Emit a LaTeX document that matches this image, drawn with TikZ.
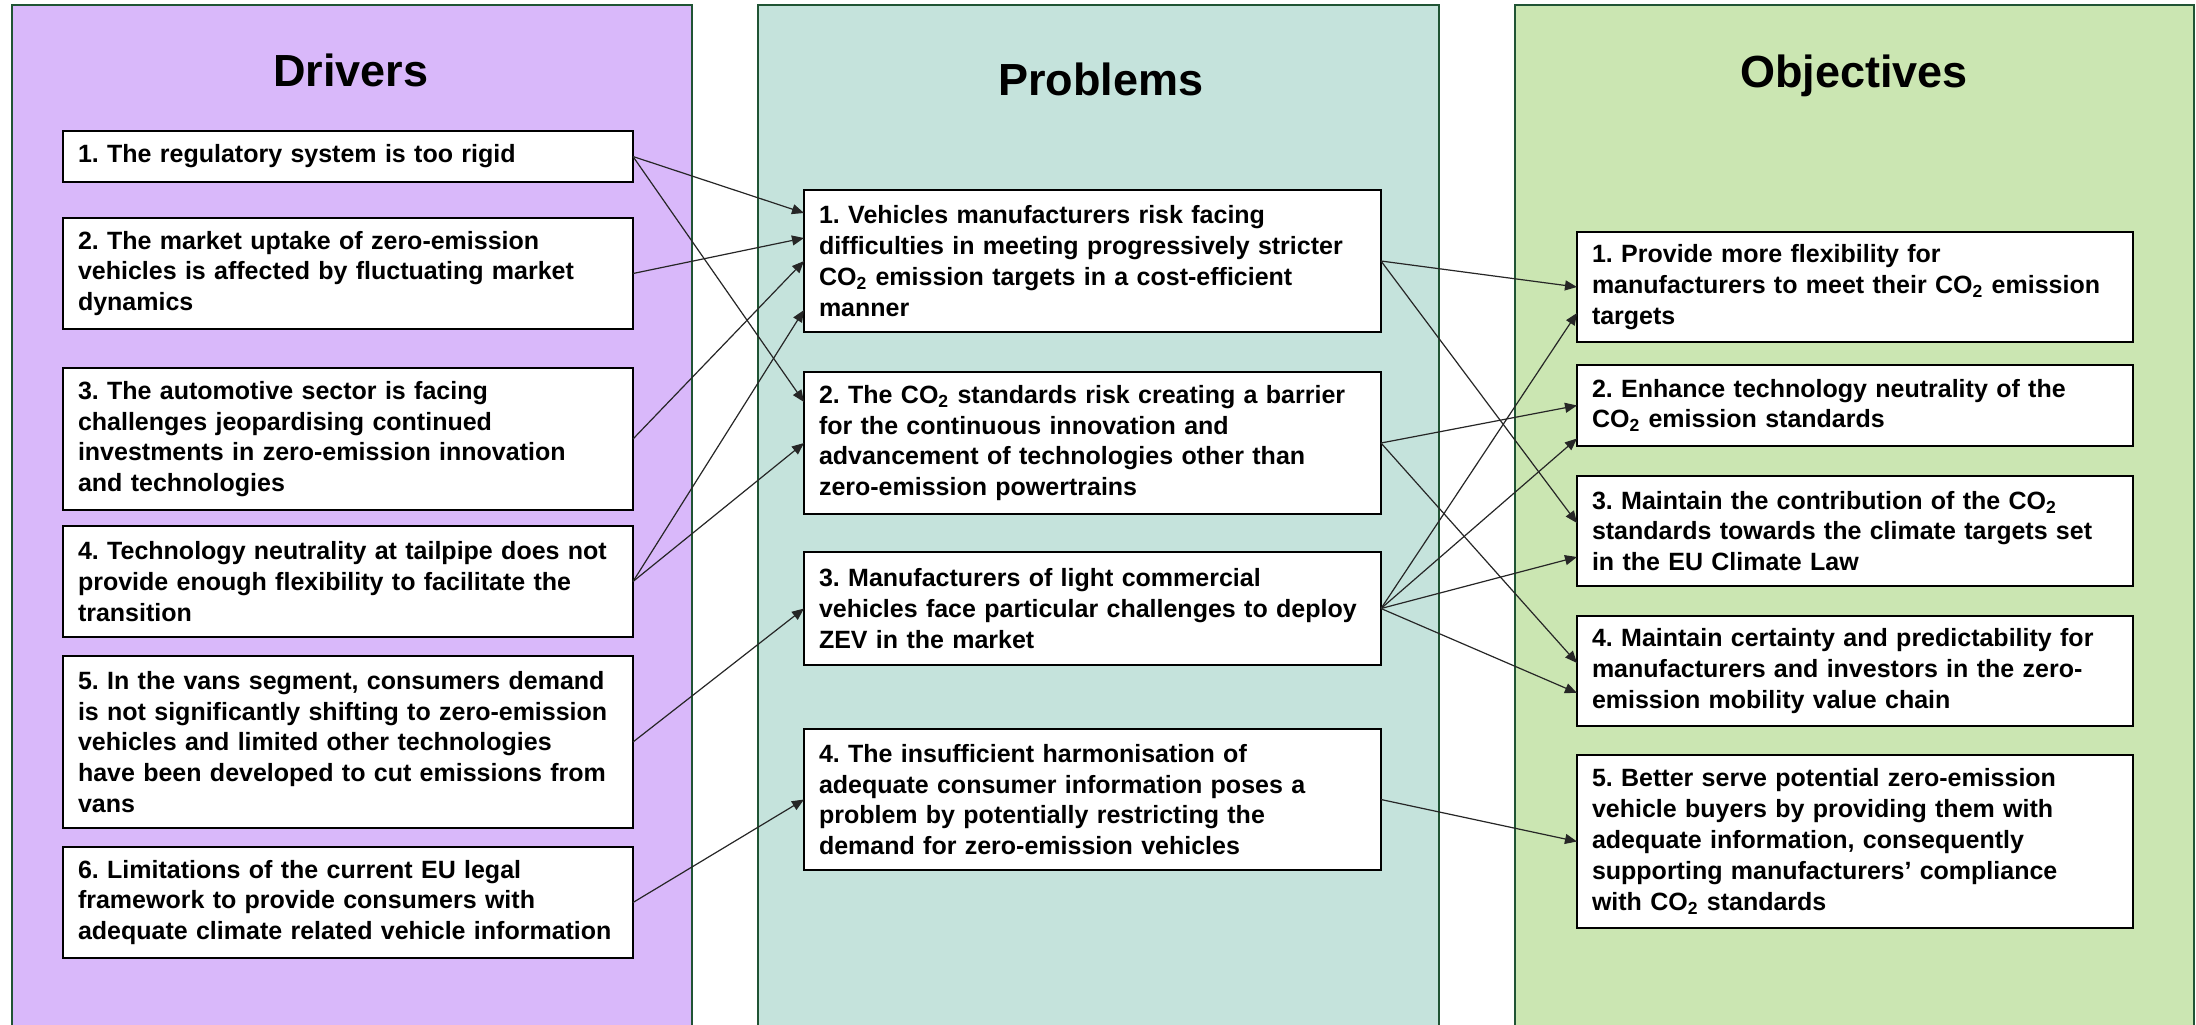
\documentclass[tikz,border=0pt]{standalone}
\usepackage{fontspec}
\setmainfont{Liberation Sans}
\usetikzlibrary{positioning, arrows.meta, calc}

\definecolor{drvfill}{RGB}{217,184,250}
\definecolor{prbfill}{RGB}{197,227,220}
\definecolor{objfill}{RGB}{203,230,178}
\definecolor{panelline}{RGB}{32,84,52}
\newcommand{\cotwo}{CO\textsubscript{2}}
\frenchspacing

\begin{document}
\begin{tikzpicture}[
        x=0.5pt, y=-0.5pt,
        font=\fontsize{12.5pt}{15.4pt}\selectfont\bfseries,
        panel/.style={draw=panelline, line width=0.9pt},
        head/.style={anchor=base, font=\fontsize{22.5pt}{27pt}\selectfont\bfseries},
        box/.style={rectangle, draw, line width=1pt, fill=white, inner xsep=7.5pt, inner ysep=2pt, outer sep=0pt, align=left},
        dbox/.style={box, text width=270pt, minimum width=285pt},
        pbox/.style={box, text width=273.5pt, minimum width=288.5pt},
        obox/.style={box, text width=263pt, minimum width=278pt},
        arr/.style={-{Triangle[length=6pt, width=5pt]}, line width=0.6pt, draw=black!85}
    ]
    \useasboundingbox (0,0) rectangle (2196,1024);
    \clip (0,0) rectangle (2196,1024);
    \fill[white] (0,0) rectangle (2196,1024);

    % columns
    \draw[panel, fill=drvfill] (12,5) rectangle (692,1040);
    \draw[panel, fill=prbfill] (758,5) rectangle (1439,1040);
    \draw[panel, fill=objfill] (1515,5) rectangle (2194,1040);

    \node[head] (hdrv) at (351,86) {Drivers};
    \node[head] (hprb) at (1101,95) {Problems};
    \node[head] (hobj) at (1854,87) {Objectives};

    % drivers
    \node[dbox, anchor=north west, minimum height=25.5pt] (d1) at (63,131) {1. The regulatory system is too rigid};
    \node[dbox, below=18pt of d1, minimum height=55.5pt] (d2) {2. The market uptake of zero-emission\\vehicles is affected by fluctuating market\\dynamics};
    \node[dbox, below=19.5pt of d2, minimum height=71pt] (d3) {3. The automotive sector is facing\\challenges jeopardising continued\\investments in zero-emission innovation\\and technologies};
    \node[dbox, below=8pt of d3, minimum height=55.5pt] (d4) {4. Technology neutrality at tailpipe does not\\provide enough flexibility to facilitate the\\transition};
    \node[dbox, below=9.5pt of d4, minimum height=86pt] (d5) {5. In the vans segment, consumers demand\\is not significantly shifting to zero-emission\\vehicles and limited other technologies\\have been developed to cut emissions from\\vans};
    \node[dbox, below=9.5pt of d5, minimum height=55.5pt] (d6) {6. Limitations of the current EU legal\\framework to provide consumers with\\adequate climate related vehicle information};

    % problems
    \node[pbox, anchor=north west, minimum height=71pt] (p1) at (804,190) {1. Vehicles manufacturers risk facing\\difficulties in meeting progressively stricter\\\cotwo{} emission targets in a cost-efficient\\manner};
    \node[pbox, below=20pt of p1, minimum height=71pt] (p2) {2. The \cotwo{} standards risk creating a barrier\\for the continuous innovation and\\advancement of technologies other than\\zero-emission powertrains};
    \node[pbox, below=19pt of p2, minimum height=56.5pt] (p3) {3. Manufacturers of light commercial\\vehicles face particular challenges to deploy\\ZEV in the market};
    \node[pbox, below=32pt of p3, minimum height=70.5pt] (p4) {4. The insufficient harmonisation of\\adequate consumer information poses a\\problem by potentially restricting the\\demand for zero-emission vehicles};

    % objectives
    \node[obox, anchor=north west, minimum height=55pt] (o1) at (1577,232) {1. Provide more flexibility for\\manufacturers to meet their \cotwo{} emission\\targets};
    \node[obox, below=11.5pt of o1, minimum height=40.5pt] (o2) {2. Enhance technology neutrality of the\\\cotwo{} emission standards};
    \node[obox, below=15pt of o2, minimum height=55pt] (o3) {3. Maintain the contribution of the \cotwo\\standards towards the climate targets set\\in the EU Climate Law};
    \node[obox, below=15pt of o3, minimum height=55pt] (o4) {4. Maintain certainty and predictability for\\manufacturers and investors in the zero-\\emission mobility value chain};
    \node[obox, below=14.5pt of o4, minimum height=86.5pt] (o5) {5. Better serve potential zero-emission\\vehicle buyers by providing them with\\adequate information, consequently\\supporting manufacturers' compliance\\with \cotwo{} standards};

    % drivers -> problems
    \draw[arr] (d1.east) -- ($(p1.west)+(0,-48)$);
    \draw[arr] (d2.east) -- ($(p1.west)+(0,-23)$);
    \draw[arr] (d3.east) -- (p1.west);
    \draw[arr] (d4.east) -- ($(p1.west)+(0,49)$);
    \draw[arr] (d1.east) -- ($(p2.west)+(0,-41)$);
    \draw[arr] (d4.east) -- (p2.west);
    \draw[arr] (d5.east) -- (p3.west);
    \draw[arr] (d6.east) -- (p4.west);

    % problems -> objectives
    \draw[arr] (p1.east) -- (o1.west);
    \draw[arr] (p1.east) -- ($(o3.west)+(0,-8)$);
    \draw[arr] (p2.east) -- (o2.west);
    \draw[arr] (p2.east) -- ($(o4.west)+(0,-8)$);
    \draw[arr] (p3.east) -- ($(o1.west)+(0,26)$);
    \draw[arr] (p3.east) -- ($(o2.west)+(0,33)$);
    \draw[arr] (p3.east) -- ($(o3.west)+(0,26)$);
    \draw[arr] (p3.east) -- ($(o4.west)+(0,22)$);
    \draw[arr] (p4.east) -- (o5.west);
\end{tikzpicture}
\end{document}
